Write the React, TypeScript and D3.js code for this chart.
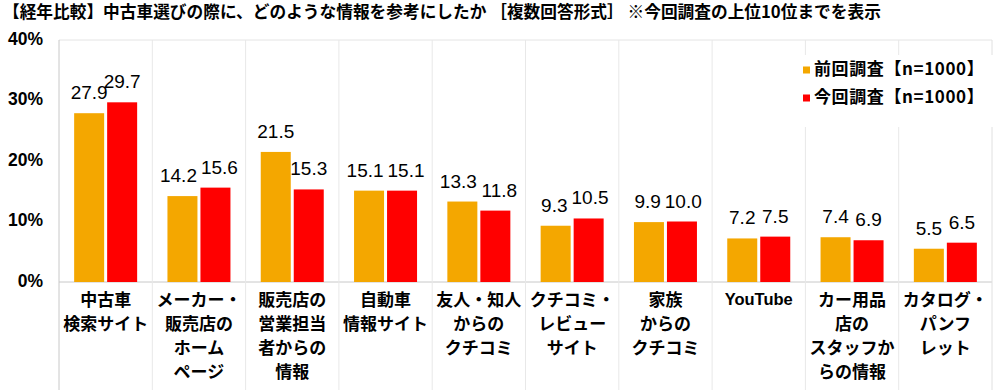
import React from "react";
import * as d3 from "d3";

const WIDTH = 1000;
const HEIGHT = 390;
const MARGIN = { top: 40, right: 8, bottom: 108, left: 59 };

const title =
  "【経年比較】中古車選びの際に、どのような情報を参考にしたか ［複数回答形式］ ※今回調査の上位10位までを表示";

const categories = [
  ["中古車", "検索サイト"],
  ["メーカー・", "販売店の", "ホーム", "ページ"],
  ["販売店の", "営業担当", "者からの", "情報"],
  ["自動車", "情報サイト"],
  ["友人・知人", "からの", "クチコミ"],
  ["クチコミ・", "レビュー", "サイト"],
  ["家族", "からの", "クチコミ"],
  ["YouTube"],
  ["カー用品", "店の", "スタッフか", "らの情報"],
  ["カタログ・", "パンフ", "レット"],
];

const previous = [27.9, 14.2, 21.5, 15.1, 13.3, 9.3, 9.9, 7.2, 7.4, 5.5];
const current = [29.7, 15.6, 15.3, 15.1, 11.8, 10.5, 10.0, 7.5, 6.9, 6.5];

const series = [
  { name: "前回調査【n=1000】", values: previous, color: "#F4A700" },
  { name: "今回調査【n=1000】", values: current, color: "#FF0000" },
];

const yTicks = [0, 10, 20, 30, 40];

const JP = "'Noto Sans CJK JP', 'Liberation Sans', sans-serif";
const NUM = "'Liberation Sans', Arial, sans-serif";
const VAL_SIZE = 19;

// rough width of a number label in Arial
const labelWidth = (s: string) =>
  s.split("").reduce((w, c) => w + (c === "." ? 0.278 : 0.556), 0) * VAL_SIZE;

const App = () => {
  const boundsWidth = WIDTH - MARGIN.left - MARGIN.right;
  const boundsHeight = HEIGHT - MARGIN.top - MARGIN.bottom;

  const keys = categories.map((c) => c.join(""));

  const xScale = d3.scaleBand().domain(keys).range([0, boundsWidth]);
  const yScale = d3.scaleLinear().domain([0, 40]).range([boundsHeight, 0]);

  const barW = 30;
  const gap = 3;

  return (
    <svg
      width={WIDTH}
      height={HEIGHT}
      style={{ position: "absolute", left: 0, top: 0, background: "#fff" }}
    >
      <text x={3} y={18} fontFamily={JP} fontWeight={700} fontSize={16.7} fill="#000">
        {title}
      </text>
      <g transform={`translate(${MARGIN.left},${MARGIN.top})`}>
        {/* frame and separators */}
        <line x1={0} x2={boundsWidth} y1={0} y2={0} stroke="#e4e4e4" />
        <line x1={0} x2={0} y1={0} y2={HEIGHT} stroke="#c8c8c8" />
        <line x1={0} x2={boundsWidth} y1={boundsHeight} y2={boundsHeight} stroke="#c8c8c8" />
        {keys.map((k, i) => {
          const x = (xScale(k) ?? 0) + xScale.bandwidth();
          return (
            <line
              key={k}
              x1={x}
              x2={x}
              y1={0}
              y2={HEIGHT}
              stroke={i === keys.length - 1 ? "#e0e0e0" : "#e8e8e8"}
            />
          );
        })}

        {/* y labels */}
        {yTicks.map((t) => (
          <text
            key={t}
            x={-16}
            y={yScale(t)}
            textAnchor="end"
            dominantBaseline="middle"
            fontFamily={NUM}
            fontWeight={700}
            fontSize={17.5}
          >
            {t}%
          </text>
        ))}

        {/* bars */}
        {keys.map((k, i) => {
          const cx = (xScale(k) ?? 0) + xScale.bandwidth() / 2;
          const xs = [cx - gap / 2 - barW, cx + gap / 2];
          const txt = series.map((s) => s.values[i].toFixed(1));
          const ys = series.map((s) => yScale(s.values[i]) - 14);
          // push the two labels apart when they would collide
          let shift = 0;
          if (Math.abs(ys[0] - ys[1]) < 10) {
            const need = (labelWidth(txt[0]) + labelWidth(txt[1])) / 2 + 4;
            const have = barW + gap;
            if (need > have) shift = (need - have) / 2;
          }
          return (
            <g key={k}>
              {series.map((s, j) => {
                const v = s.values[i];
                return (
                  <g key={s.name}>
                    <rect
                      x={xs[j]}
                      y={yScale(v)}
                      width={barW}
                      height={boundsHeight - yScale(v)}
                      fill={s.color}
                    />
                    <text
                      x={xs[j] + barW / 2 + (j === 0 ? -shift : shift)}
                      y={ys[j]}
                      textAnchor="middle"
                      fontFamily={NUM}
                      fontSize={VAL_SIZE}
                      fill="#000"
                    >
                      {txt[j]}
                    </text>
                  </g>
                );
              })}
              {categories[i].map((line, li) => (
                <text
                  key={li}
                  x={cx}
                  y={boundsHeight + 19 + li * 24}
                  textAnchor="middle"
                  dominantBaseline="middle"
                  fontFamily={line === "YouTube" ? NUM : JP}
                  fontWeight={700}
                  fontSize={line === "YouTube" ? 16.5 : 17}
                >
                  {line}
                </text>
              ))}
            </g>
          );
        })}

        {/* legend */}
        <rect x={737} y={15} width={200} height={72} fill="#fff" />
        {series.map((s, j) => (
          <g key={s.name} transform={`translate(744,${30 + j * 28})`}>
            <rect x={0} y={-3.5} width={7} height={7} fill={s.color} />
            <text
              x={11}
              y={0}
              dominantBaseline="middle"
              fontFamily={JP}
              fontWeight={700}
              fontSize={17}
              letterSpacing={0.6}
            >
              {s.name}
            </text>
          </g>
        ))}
      </g>
    </svg>
  );
};

export default App;
